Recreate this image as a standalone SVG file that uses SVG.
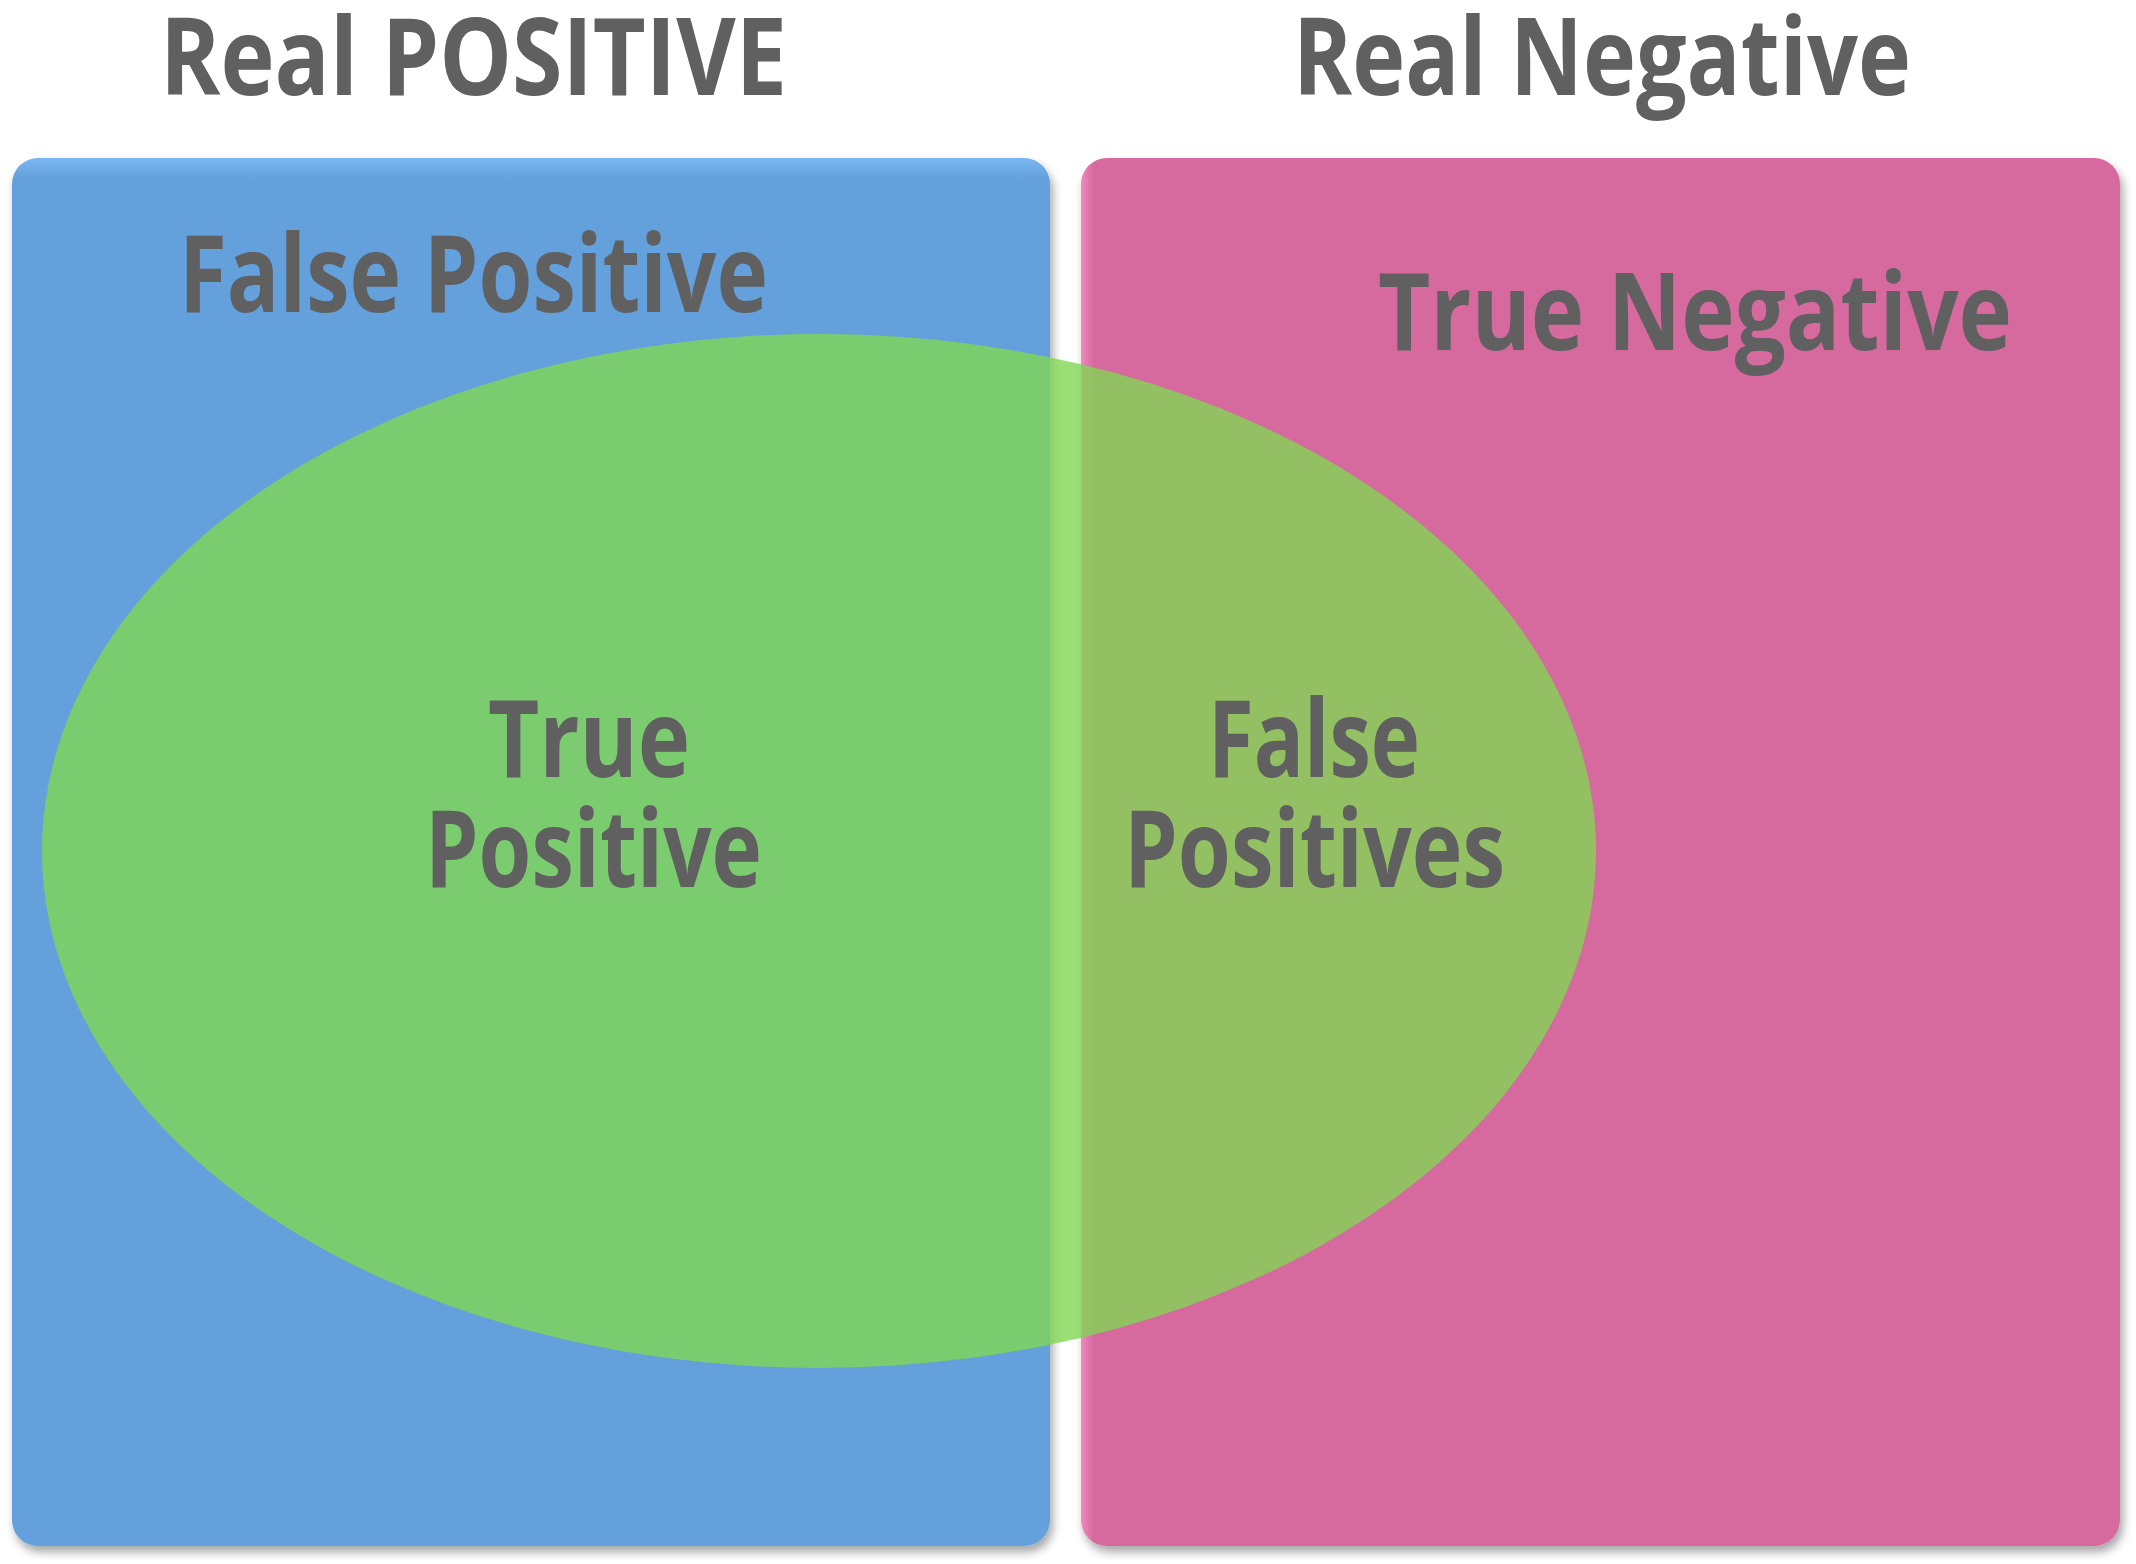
<svg xmlns="http://www.w3.org/2000/svg" width="2136" height="1564" viewBox="0 0 2136 1564">
  <defs>
    <filter id="shadow" x="-5%" y="-5%" width="110%" height="110%">
      <feDropShadow dx="3" dy="6" stdDeviation="5" flood-color="#000" flood-opacity="0.35"/>
    </filter>
    <linearGradient id="blueGrad" x1="0" y1="0" x2="0" y2="1">
      <stop offset="0" stop-color="#7AB6F0"/>
      <stop offset="0.015" stop-color="#64A0DC"/>
      <stop offset="1" stop-color="#64A0DC"/>
    </linearGradient>
    <linearGradient id="pinkGrad" x1="0" y1="0" x2="1" y2="0">
      <stop offset="0" stop-color="#F08ABE"/>
      <stop offset="0.012" stop-color="#D66A9F"/>
      <stop offset="1" stop-color="#D66A9F"/>
    </linearGradient>
    <style>
      .lbl { font-family: "Open Sans", "Noto Sans", "Liberation Sans", sans-serif; font-weight: bold; font-size: 108px; fill: #606060; }
    </style>
  </defs>
  <rect width="2136" height="1564" fill="#FFFFFF"/>

  <g id="real-positive">
    <rect x="12" y="158" width="1038" height="1388" rx="26" ry="26" fill="url(#blueGrad)" filter="url(#shadow)"/>
  </g>
  <g id="real-negative">
    <rect x="1081" y="158" width="1039" height="1388" rx="26" ry="26" fill="url(#pinkGrad)" filter="url(#shadow)"/>
  </g>
  <g id="predicted-positive">
    <ellipse cx="819" cy="851" rx="777" ry="517" fill="rgb(129,214,84)" fill-opacity="0.8"/>
  </g>

  <g id="labels">
    <text class="lbl" x="160" y="95" textLength="627" lengthAdjust="spacingAndGlyphs">Real POSITIVE</text>
    <text class="lbl" x="1293" y="95" textLength="618" lengthAdjust="spacingAndGlyphs">Real Negative</text>
    <text class="lbl" x="179" y="312" textLength="589" lengthAdjust="spacingAndGlyphs">False Positive</text>
    <text class="lbl" x="1378" y="350" textLength="634" lengthAdjust="spacingAndGlyphs">True Negative</text>
    <text class="lbl" x="488" y="777" textLength="202" lengthAdjust="spacingAndGlyphs">True</text>
    <text class="lbl" x="425" y="887" textLength="337" lengthAdjust="spacingAndGlyphs">Positive</text>
    <text class="lbl" x="1208" y="777" textLength="212" lengthAdjust="spacingAndGlyphs">False</text>
    <text class="lbl" x="1124" y="887" textLength="381" lengthAdjust="spacingAndGlyphs">Positives</text>
  </g>
  <g id="connectors"/>
</svg>
